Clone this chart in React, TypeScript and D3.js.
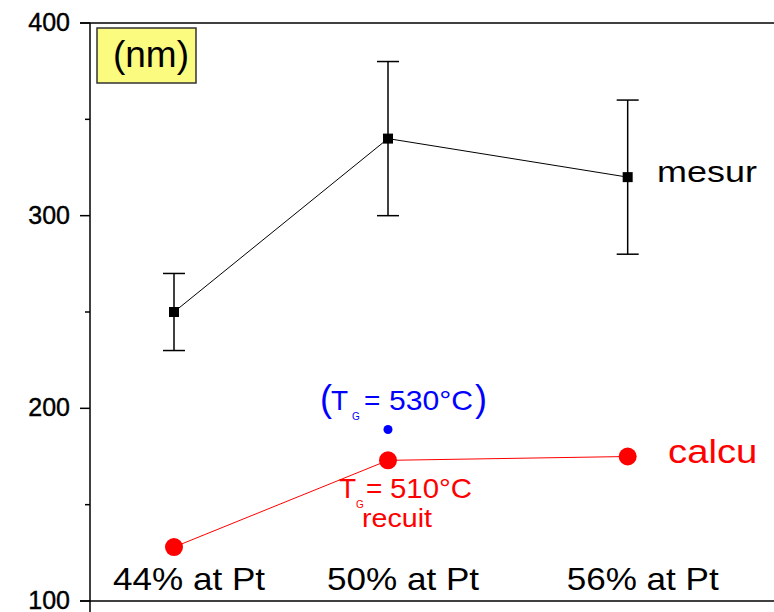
import React, { useRef, useEffect } from "react";
import * as d3 from "d3";

// composition labels along the bottom
const categories = ["44% at Pt", "50% at Pt", "56% at Pt"];
// horizontal position of each composition
const xPositions = [1, 2, 3.12];

// measured size (nm) with error bars
const measured = [250, 340, 320];
const measuredErr = [20, 40, 40];

// calculated size (nm)
const calculated = [128, 173, 175];

// extra point at T_G = 530°C
const extraX = 2;
const extraValue = 189;

const yTicks = [100, 200, 300, 400];
const yMinorTicks = [150, 250, 350];

const FONT = "Liberation Sans, Arial, sans-serif";

const App = () => {
    const svgRef = useRef(null);

    useEffect(() => {
        const svg = d3.select(svgRef.current);
        svg.selectAll("*").remove();

        const width = 774;
        const height = 612;
        const axisX = 90;

        // y scale: 100..400 nm
        const y = d3.scaleLinear().domain([100, 400]).range([601, 23]);
        // x scale for the three compositions
        const x = d3.scaleLinear().domain([1, 2]).range([174, 388]);

        svg.attr("width", width).attr("height", height);

        // the series labels are cut off on the right in the original
        svg.append("defs")
            .append("clipPath")
            .attr("id", "labelClip")
            .append("rect")
            .attr("x", 0).attr("y", 0)
            .attr("width", 758).attr("height", height);

        const g = svg.append("g").attr("font-family", FONT);

        // helper: text stretched horizontally (the original is a bit wide)
        const wideText = (sel, tx, ty, size, sx, str, fill = "black") =>
            sel.append("g")
                .attr("clip-path", "url(#labelClip)")
                .append("text")
                .attr("transform", `translate(${tx},${ty}) scale(${sx},1)`)
                .attr("font-size", size)
                .attr("fill", fill)
                .text(str);

        // top frame line and bottom line
        [400, 100].forEach((v) => {
            g.append("line")
                .attr("x1", 80).attr("x2", width)
                .attr("y1", y(v)).attr("y2", y(v))
                .attr("stroke", "black").attr("stroke-width", 1.5);
        });

        // y axis
        const yAxis = g.append("g").attr("transform", `translate(${axisX},0)`);
        yAxis.append("line")
            .attr("y1", y(400)).attr("y2", height)
            .attr("stroke", "black").attr("stroke-width", 1.5);
        yAxis.selectAll(".major")
            .data(yTicks)
            .join("line")
            .attr("x1", -10).attr("x2", 0)
            .attr("y1", (d) => y(d)).attr("y2", (d) => y(d))
            .attr("stroke", "black").attr("stroke-width", 1.5);
        yAxis.selectAll(".minor")
            .data(yMinorTicks)
            .join("line")
            .attr("x1", -5).attr("x2", 0)
            .attr("y1", (d) => y(d)).attr("y2", (d) => y(d))
            .attr("stroke", "black").attr("stroke-width", 1.5);
        yAxis.selectAll("text")
            .data(yTicks)
            .join("text")
            .attr("x", -20)
            .attr("y", (d) => y(d) + 8)
            .attr("text-anchor", "end")
            .attr("font-size", 25)
            .attr("stroke", "black")
            .attr("stroke-width", 0.4)
            .text((d) => d);

        // (nm) box
        g.append("rect")
            .attr("x", 97).attr("y", 28)
            .attr("width", 99).attr("height", 55)
            .attr("fill", "#fbfb80")
            .attr("stroke", "#333").attr("stroke-width", 1.5);
        g.append("text")
            .attr("x", 151).attr("y", 67)
            .attr("text-anchor", "middle")
            .attr("font-size", 37)
            .text("(nm)");

        // category labels
        g.selectAll(".cat")
            .data(categories)
            .join("text")
            .attr("x", (d, i) => x(xPositions[i]) + 15)
            .attr("y", 590)
            .attr("text-anchor", "middle")
            .attr("font-size", 32)
            .attr("textLength", 152)
            .attr("lengthAdjust", "spacingAndGlyphs")
            .text((d) => d);

        // measured series
        const line = d3.line()
            .x((d) => x(d[0]))
            .y((d) => y(d[1]));

        const measuredPts = xPositions.map((xv, i) => [xv, measured[i]]);
        g.append("path")
            .datum(measuredPts)
            .attr("fill", "none")
            .attr("stroke", "black")
            .attr("stroke-width", 1)
            .attr("d", line);

        const err = g.selectAll(".err").data(measuredPts).join("g");
        err.append("line")
            .attr("x1", (d) => x(d[0])).attr("x2", (d) => x(d[0]))
            .attr("y1", (d, i) => y(d[1] - measuredErr[i]))
            .attr("y2", (d, i) => y(d[1] + measuredErr[i]))
            .attr("stroke", "black").attr("stroke-width", 1.5);
        [-1, 1].forEach((s) => {
            err.append("line")
                .attr("x1", (d) => x(d[0]) - 11).attr("x2", (d) => x(d[0]) + 11)
                .attr("y1", (d, i) => y(d[1] + s * measuredErr[i]))
                .attr("y2", (d, i) => y(d[1] + s * measuredErr[i]))
                .attr("stroke", "black").attr("stroke-width", 1.5);
        });
        err.append("rect")
            .attr("x", (d) => x(d[0]) - 5).attr("y", (d) => y(d[1]) - 5)
            .attr("width", 10).attr("height", 10)
            .attr("fill", "black");

        wideText(g, 657, 182, 29, 1.24, "mesuré");

        // calculated series
        const calcPts = xPositions.map((xv, i) => [xv, calculated[i]]);
        g.append("path")
            .datum(calcPts)
            .attr("fill", "none")
            .attr("stroke", "red")
            .attr("stroke-width", 1)
            .attr("d", line);
        g.selectAll(".calc")
            .data(calcPts)
            .join("circle")
            .attr("cx", (d) => x(d[0]))
            .attr("cy", (d) => y(d[1]))
            .attr("r", 9)
            .attr("fill", "red");

        wideText(g, 668, 463, 33, 1.16, "calculé", "red");

        // blue point at T_G = 530°C
        g.append("circle")
            .attr("cx", x(extraX)).attr("cy", y(extraValue))
            .attr("r", 4.5)
            .attr("fill", "blue");

        const blue = g.append("g").attr("fill", "blue");
        blue.append("text").attr("x", 320).attr("y", 411).attr("font-size", 36).text("(");
        blue.append("text").attr("x", 331).attr("y", 410).attr("font-size", 28).text("T");
        blue.append("text").attr("x", 352).attr("y", 420).attr("font-size", 10).text("G");
        blue.append("text").attr("x", 364).attr("y", 410).attr("font-size", 28).text("=");
        blue.append("text").attr("x", 389).attr("y", 410).attr("font-size", 28)
            .attr("textLength", 84).attr("lengthAdjust", "spacingAndGlyphs").text("530°C");
        blue.append("text").attr("x", 475).attr("y", 411).attr("font-size", 36).text(")");

        const red = g.append("g").attr("fill", "red");
        red.append("text").attr("x", 339).attr("y", 498).attr("font-size", 28).text("T");
        red.append("text").attr("x", 356).attr("y", 508).attr("font-size", 10).text("G");
        red.append("text").attr("x", 366).attr("y", 498).attr("font-size", 28).text("=");
        red.append("text").attr("x", 390).attr("y", 498).attr("font-size", 28)
            .attr("textLength", 82).attr("lengthAdjust", "spacingAndGlyphs").text("510°C");
        red.append("text").attr("x", 362).attr("y", 527).attr("font-size", 26)
            .attr("textLength", 70).attr("lengthAdjust", "spacingAndGlyphs").text("recuit");
    }, []);

    return (
        <svg ref={svgRef} style={{ position: "absolute", left: 0, top: 0 }}></svg>
    );
};

export default App;
